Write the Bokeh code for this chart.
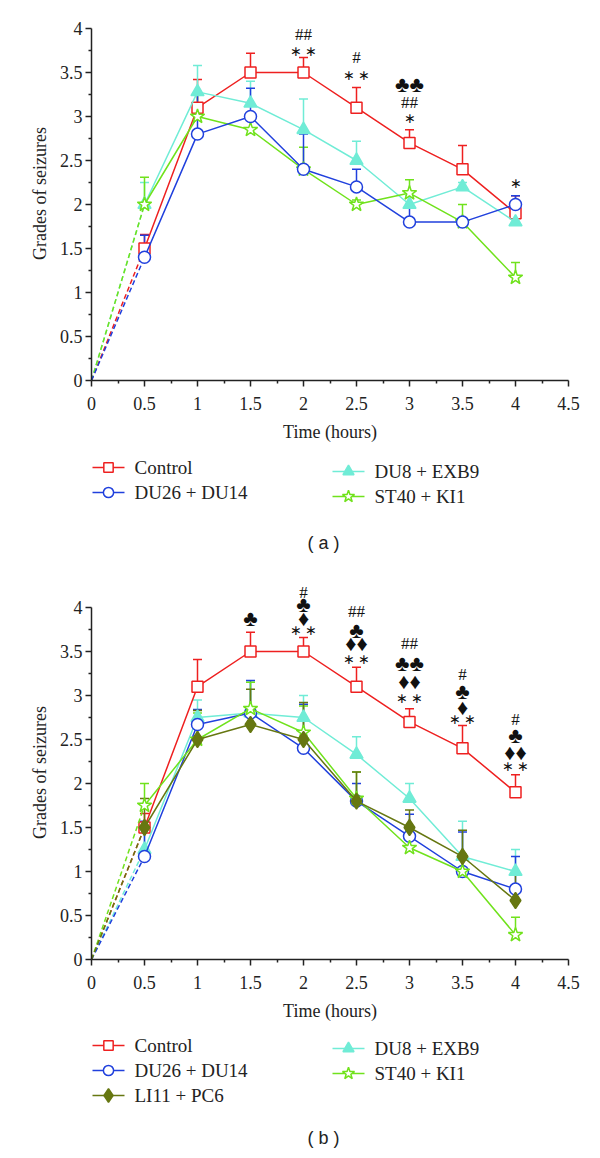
from bokeh.plotting import figure
from bokeh.models import (Range1d, FixedTicker, Whisker, TeeHead, ColumnDataSource,
                          LabelSet)
from bokeh.core.properties import value
from bokeh.layouts import column
from bokeh.embed import file_html
from bokeh.resources import INLINE

# ---------------- data ----------------
TIME = [0.5, 1, 1.5, 2, 2.5, 3, 3.5, 4]
ORIGIN_TIME = 0
ORIGIN_GRADE = 0

X_TICKS = [0, 0.5, 1, 1.5, 2, 2.5, 3, 3.5, 4, 4.5]
X_TICK_LABELS = ["0", "0.5", "1", "1.5", "2", "2.5", "3", "3.5", "4", "4.5"]
Y_TICKS = [0, 0.5, 1, 1.5, 2, 2.5, 3, 3.5, 4]
Y_TICK_LABELS = ["0", "0.5", "1", "1.5", "2", "2.5", "3", "3.5", "4"]

# panel (a)
A_CONTROL = [1.5, 3.1, 3.5, 3.5, 3.1, 2.7, 2.4, 1.9]
A_CONTROL_ERR = [0.16, 0.32, 0.22, 0.17, 0.23, 0.15, 0.27, 0.2]
A_DU26 = [1.4, 2.8, 3.0, 2.4, 2.2, 1.8, 1.8, 2.0]
A_DU26_ERR = [0.25, 0.45, 0.32, 0.4, 0.2, 0.2, 0.0, 0.1]
A_DU8 = [2.0, 3.28, 3.15, 2.85, 2.5, 2.0, 2.2, 1.8]
A_DU8_ERR = [0.25, 0.3, 0.25, 0.35, 0.22, 0.1, 0.05, 0.1]
A_ST40 = [2.0, 3.0, 2.85, 2.4, 2.0, 2.13, 1.8, 1.17]
A_ST40_ERR = [0.31, 0.27, 0.15, 0.25, 0.05, 0.15, 0.2, 0.17]

A_ANN_X = [2, 2, 2.5, 2.5, 3, 3, 3, 4]
A_ANN_Y = [3.93, 3.74, 3.67, 3.47, 3.36, 3.16, 2.98, 2.24]
A_ANN_TEXT = ["##", "∗ ∗", "#", "∗ ∗", "♣♣", "##", "∗", "∗"]

# panel (b)
B_CONTROL = [1.5, 3.1, 3.5, 3.5, 3.1, 2.7, 2.4, 1.9]
B_CONTROL_ERR = [0.16, 0.31, 0.22, 0.16, 0.22, 0.15, 0.26, 0.2]
B_DU26 = [1.17, 2.67, 2.8, 2.4, 1.8, 1.4, 1.0, 0.8]
B_DU26_ERR = [0.4, 0.17, 0.37, 0.5, 0.2, 0.25, 0.45, 0.37]
B_LI11 = [1.5, 2.5, 2.67, 2.5, 1.8, 1.5, 1.17, 0.67]
B_LI11_ERR = [0.33, 0.33, 0.4, 0.42, 0.33, 0.2, 0.3, 0.3]
B_DU8 = [1.25, 2.75, 2.8, 2.75, 2.33, 1.83, 1.17, 1.0]
B_DU8_ERR = [0.25, 0.2, 0.35, 0.25, 0.2, 0.17, 0.4, 0.25]
B_ST40 = [1.75, 2.5, 2.85, 2.58, 1.83, 1.27, 1.0, 0.28]
B_ST40_ERR = [0.25, 0.3, 0.3, 0.3, 0.3, 0.2, 0.2, 0.2]

B_ANN_X = [1.5, 2, 2, 2, 2, 2.5, 2.5, 2.5, 2.5, 3, 3, 3, 3,
           3.5, 3.5, 3.5, 3.5, 4, 4, 4, 4]
B_ANN_Y = [3.875, 4.17, 4.03, 3.875, 3.74, 3.95, 3.74, 3.59, 3.41,
           3.59, 3.36, 3.16, 2.97, 3.24, 3.05, 2.86, 2.73, 2.73, 2.55, 2.35, 2.19]
B_ANN_TEXT = ["♣", "#", "♣", "♦", "∗ ∗", "##", "♣", "♦♦", "∗ ∗",
              "##", "♣♣", "♦♦", "∗ ∗", "#", "♣", "♦", "∗ ∗", "#", "♣", "♦♦", "∗ ∗"]

# ---------------- styles / layout ----------------
SERIF = "Liberation Serif"
TEXT_COLOR = "#222222"
STYLES = {
    "Control": dict(color="#ee2020", marker="square", size=11, fill="white"),
    "DU26 + DU14": dict(color="#2040dd", marker="circle", size=12, fill="white"),
    "LI11 + PC6": dict(color="#667711", marker="diamond", size=16, fill="#667711"),
    "DU8 + EXB9": dict(color="#70ecd6", marker="triangle", size=13, fill="#70ecd6"),
    "ST40 + KI1": dict(color="#70e21c", marker="star", size=15, fill="white"),
}
W = 584
BORDER_L = 91
BORDER_R = 16
PX_PER_UNIT = 88
Y_TOP = 4.25            # frame extends a little above the axis end (room for marks)
FRAME_H = int(round(Y_TOP * PX_PER_UNIT))


def make_plot(series, draw_order, ann, top, height):
    p = figure(width=W, height=height, x_range=Range1d(0, 4.5),
               y_range=Range1d(0, Y_TOP),
               output_backend="svg", toolbar_location=None,
               min_border_left=BORDER_L, min_border_right=BORDER_R, min_border_top=top,
               min_border_bottom=height - top - FRAME_H, outline_line_color=None)
    p.grid.visible = False
    p.xaxis.ticker = FixedTicker(ticks=X_TICKS,
                                 minor_ticks=[t + 0.25 for t in X_TICKS[:-1]])
    p.yaxis.ticker = FixedTicker(ticks=Y_TICKS,
                                 minor_ticks=[t + 0.25 for t in Y_TICKS[:-1]])
    p.yaxis.bounds = (Y_TICKS[0], Y_TICKS[-1])
    p.xaxis.major_label_overrides = {t: l for t, l in zip(X_TICKS, X_TICK_LABELS)}
    p.yaxis.major_label_overrides = {t: l for t, l in zip(Y_TICKS, Y_TICK_LABELS)}
    p.xaxis.axis_label = "Time (hours)"
    p.yaxis.axis_label = "Grades of seizures"
    for ax in (p.xaxis[0], p.yaxis[0]):
        ax.axis_line_width = 1.5
        ax.axis_line_color = TEXT_COLOR
        ax.major_tick_line_color = TEXT_COLOR
        ax.minor_tick_line_color = TEXT_COLOR
        ax.major_tick_line_width = 1.5
        ax.minor_tick_line_width = 1.5
        ax.major_tick_out = 6
        ax.major_tick_in = 0
        ax.minor_tick_out = 3
        ax.minor_tick_in = 0
        ax.major_label_text_font = SERIF
        ax.major_label_text_font_size = "18px"
        ax.major_label_text_color = TEXT_COLOR
        ax.axis_label_text_font = SERIF
        ax.axis_label_text_font_size = "18px"
        ax.axis_label_text_font_style = "normal"
        ax.axis_label_text_color = TEXT_COLOR
    p.yaxis.major_label_standoff = 3
    p.xaxis.major_label_standoff = 10
    p.xaxis.axis_label_standoff = 9
    p.yaxis.axis_label_standoff = 7

    for name in draw_order:
        vals, errs = series[name]
        st = STYLES[name]
        c = st["color"]
        p.line([ORIGIN_TIME, TIME[0]], [ORIGIN_GRADE, vals[0]], line_color=c,
               line_width=1.5, line_dash="5 3")
        src = ColumnDataSource(dict(x=TIME, lower=vals,
                                    upper=[v + e for v, e in zip(vals, errs)]))
        p.add_layout(Whisker(source=src, base="x", lower="lower", upper="upper",
                             dimension="height", line_color=c, line_width=1.5,
                             lower_head=None,
                             upper_head=TeeHead(size=9, line_color=c, line_width=1.5)))
        p.line(TIME, vals, line_color=c, line_width=1.5)
        p.scatter(TIME, vals, marker=st["marker"], size=st["size"],
                  line_color=c, fill_color=st["fill"], line_width=1.5)

    ax_, ay_, at_ = ann
    groups = {
        "hash": ([], [], [], SERIF, "17px"),
        "star": ([], [], [], "DejaVu Sans", "14px"),
        "suit": ([], [], [], "DejaVu Sans", "22px"),
    }
    for x, y, t in zip(ax_, ay_, at_):
        key = "hash" if "#" in t else ("star" if "∗" in t else "suit")
        groups[key][0].append(x)
        groups[key][1].append(y)
        groups[key][2].append(t)
    for gx, gy, gt, font, fsize in groups.values():
        if not gx:
            continue
        asrc = ColumnDataSource(dict(x=gx, y=gy, t=gt))
        p.add_layout(LabelSet(source=asrc, x="x", y="y", text="t", text_align="center",
                              text_baseline="middle", text_font=font,
                              text_font_size=fsize, text_color="#111111"))
    return p


def make_legend(left_names, right_names, caption, height, left_rows, right_rows,
                caption_y):
    # a pixel-space canvas (x in page pixels, y downwards) for the legend and caption;
    # its frame is aligned with the plot frame above it (BORDER_L .. W - BORDER_R)
    p = figure(width=W, height=height, x_range=Range1d(BORDER_L, W - BORDER_R),
               y_range=Range1d(height, 0),
               output_backend="svg", toolbar_location=None,
               min_border_left=BORDER_L, min_border_right=BORDER_R,
               min_border_top=0, min_border_bottom=0,
               x_axis_location=None, y_axis_location=None, outline_line_color=None)
    p.grid.visible = False
    for names, x0, rows in ((left_names, 92, left_rows), (right_names, 332, right_rows)):
        for name, yy in zip(names, rows):
            st = STYLES[name]
            c = st["color"]
            p.segment(x0=x0, y0=yy, x1=x0 + 32, y1=yy, line_color=c, line_width=1.5)
            p.scatter([x0 + 16], [yy], marker=st["marker"], size=st["size"] * 0.85,
                      line_color=c, fill_color=st["fill"], line_width=1.5)
            p.text([x0 + 42], [yy], text=[name], text_font=value(SERIF),
                   text_font_size="19px", text_baseline="middle", text_align="left",
                   text_color=TEXT_COLOR)
    p.text([323], [caption_y], text=[caption], text_font=value("Liberation Sans"),
           text_font_size="18px", text_baseline="middle", text_align="center",
           text_color=TEXT_COLOR)
    return p


pa = make_plot(
    {"Control": (A_CONTROL, A_CONTROL_ERR), "DU26 + DU14": (A_DU26, A_DU26_ERR),
     "DU8 + EXB9": (A_DU8, A_DU8_ERR), "ST40 + KI1": (A_ST40, A_ST40_ERR)},
    ["Control", "DU8 + EXB9", "ST40 + KI1", "DU26 + DU14"],
    (A_ANN_X, A_ANN_Y, A_ANN_TEXT), 380 - FRAME_H, 450)
la = make_legend(["Control", "DU26 + DU14"], ["DU8 + EXB9", "ST40 + KI1"],
                 "( a )", 125, [17, 42], [21, 46], 92)

pb = make_plot(
    {"Control": (B_CONTROL, B_CONTROL_ERR), "DU26 + DU14": (B_DU26, B_DU26_ERR),
     "LI11 + PC6": (B_LI11, B_LI11_ERR), "DU8 + EXB9": (B_DU8, B_DU8_ERR),
     "ST40 + KI1": (B_ST40, B_ST40_ERR)},
    ["Control", "DU8 + EXB9", "DU26 + DU14", "ST40 + KI1", "LI11 + PC6"],
    (B_ANN_X, B_ANN_Y, B_ANN_TEXT), 384 - FRAME_H, 455)
lb = make_legend(["Control", "DU26 + DU14", "LI11 + PC6"], ["DU8 + EXB9", "ST40 + KI1"],
                 "( b )", 120, [15, 40, 65], [18, 43], 107)

layout = column(pa, la, pb, lb, spacing=0)
open("out.html", "w").write(file_html(layout, INLINE))
